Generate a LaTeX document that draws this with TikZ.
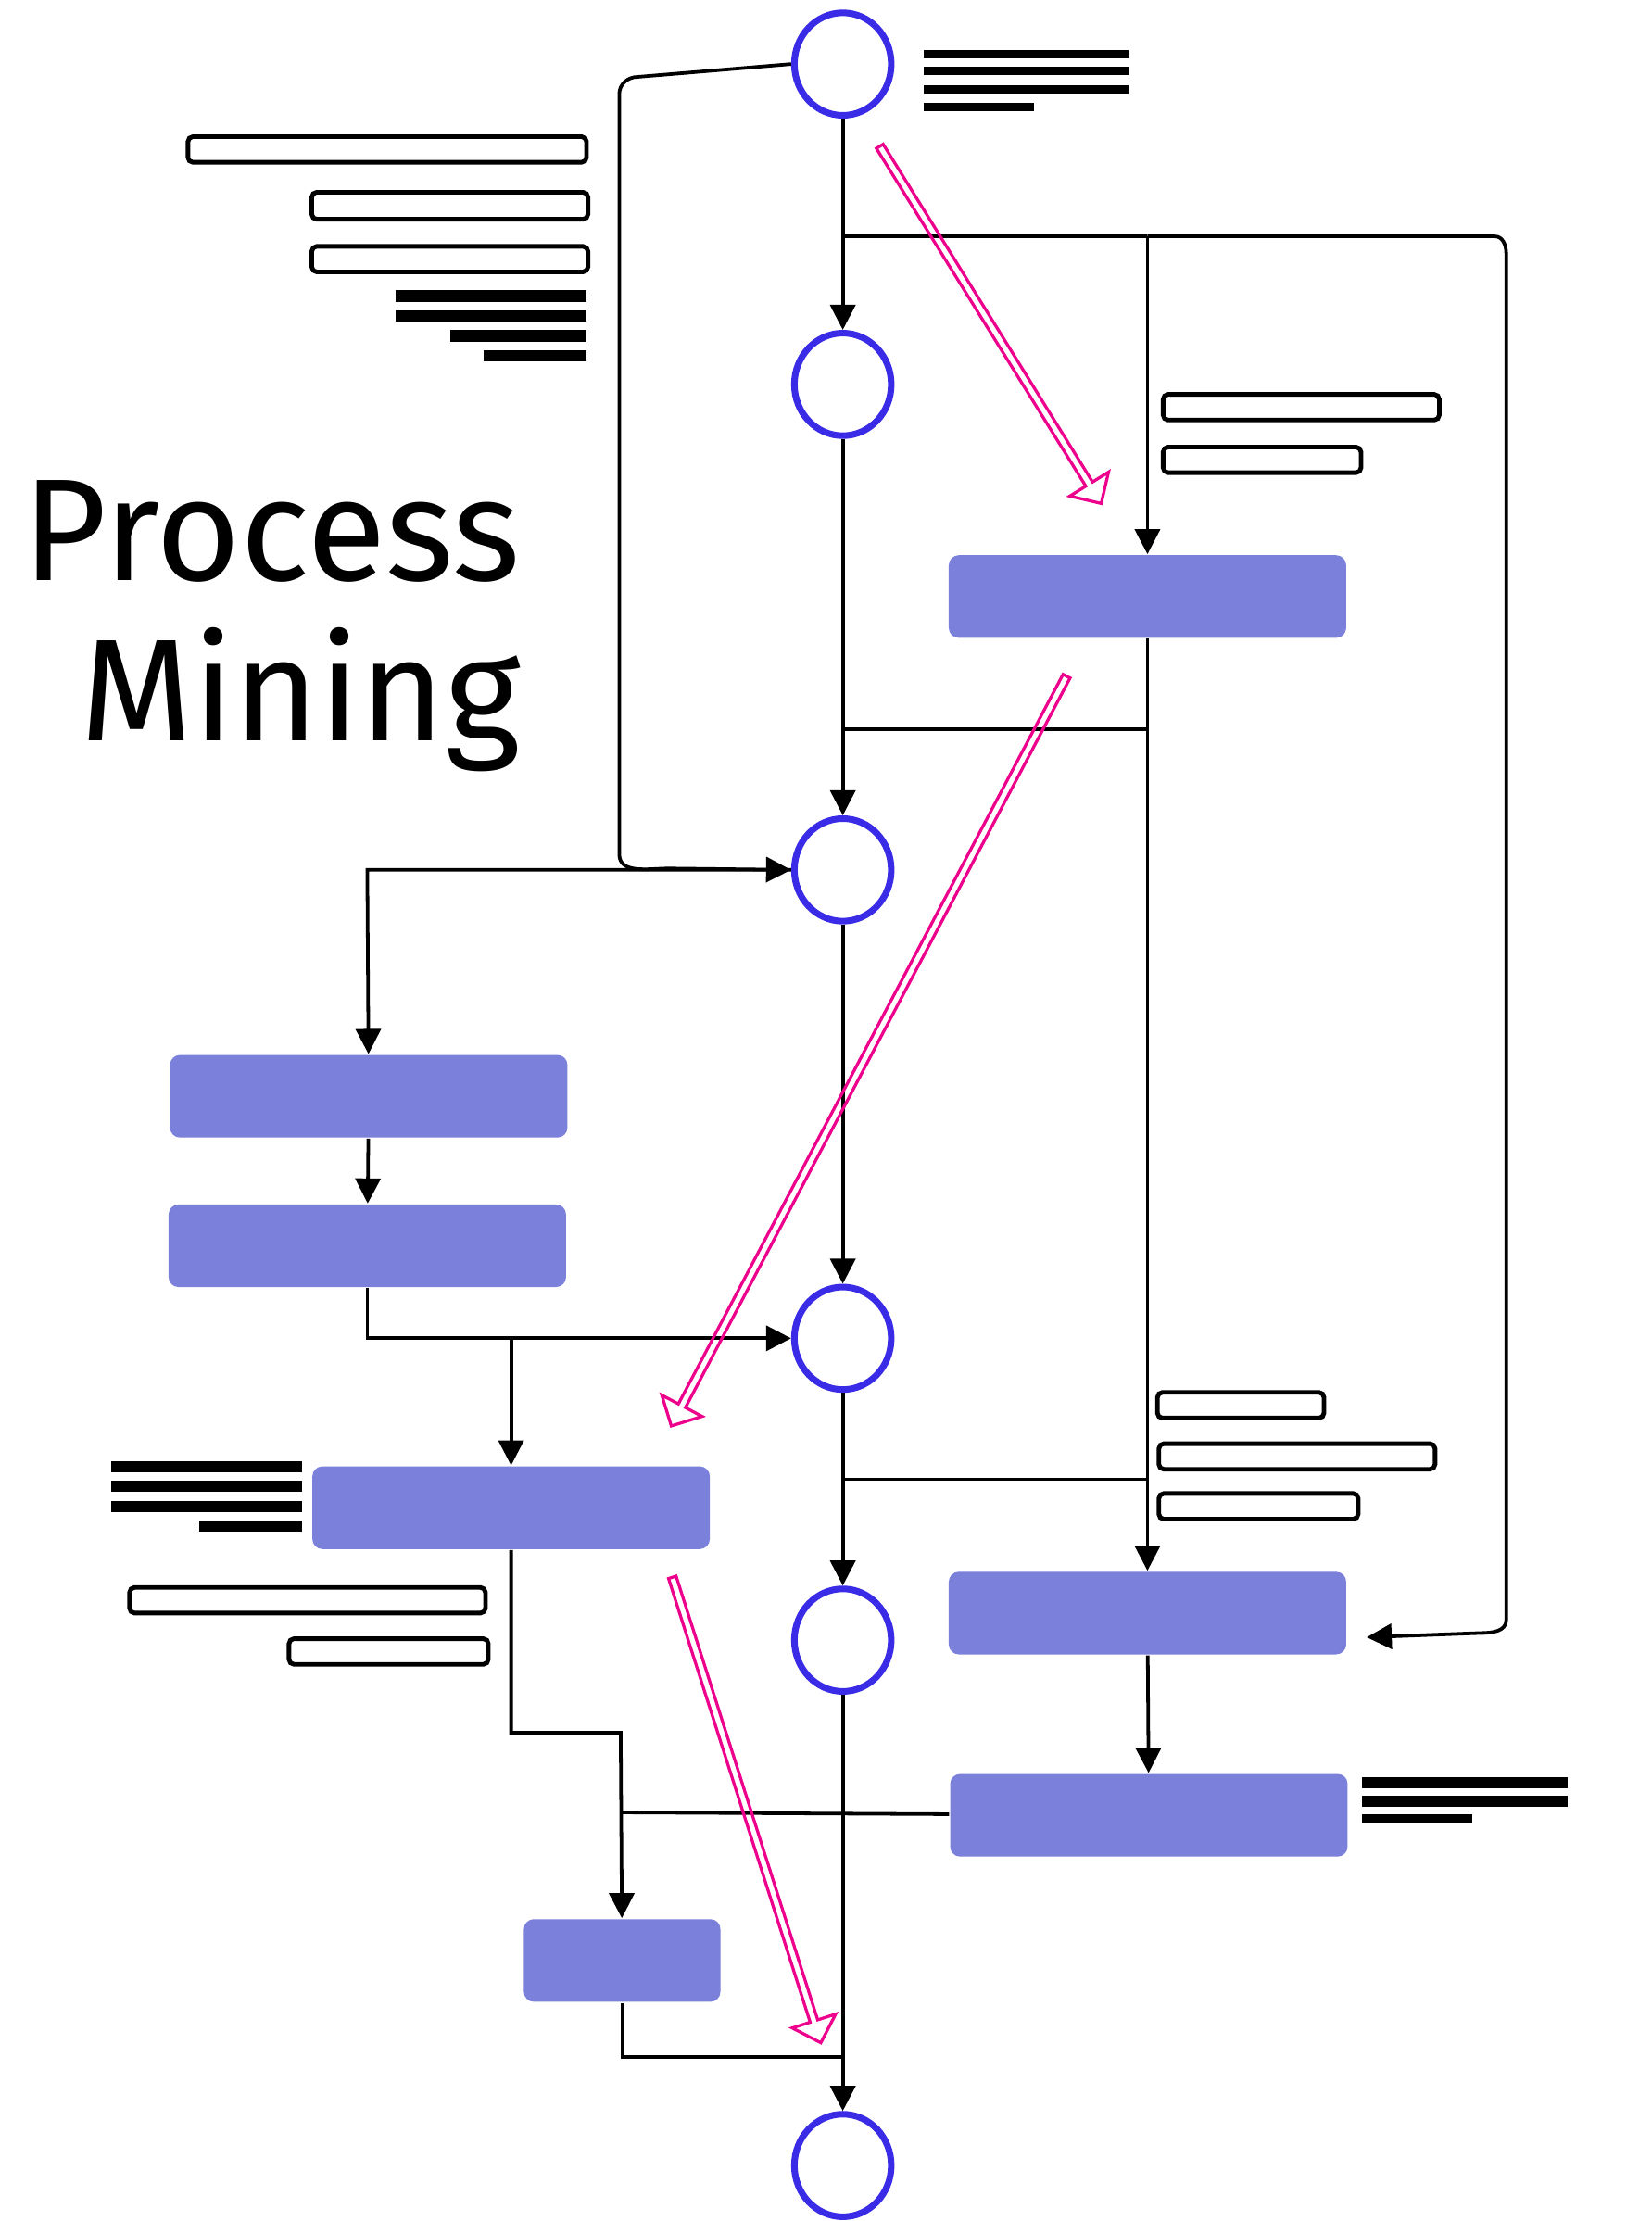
\documentclass[tikz,border=0pt]{standalone}
\usepackage{fontspec}
\setmainfont{Fira Sans}
\usetikzlibrary{arrows.meta,shapes.geometric,shapes.arrows}
\definecolor{stateblue}{HTML}{3A2BE6}
\definecolor{taskfill}{HTML}{7B80DB}
\begin{document}
\begin{tikzpicture}[x=0.01cm,y=-0.01cm,
    state/.style={ellipse,draw=stateblue,line width=1.3pt,minimum width=0.68cm,minimum height=0.72cm,inner sep=0},
    task/.style={rectangle,rounded corners=2pt,fill=taskfill,minimum height=0.58cm,inner sep=0},
    flow/.style={line width=0.7pt,-{Triangle[length=5pt,width=5pt]}},
    link/.style={line width=0.7pt},
    hint/.style={single arrow,draw=magenta,line width=0.6pt,minimum width=0.32cm,single arrow head extend=0.05cm,inner sep=0,single arrow head indent=0cm},
    slot/.style={draw,line width=0.9pt,rounded corners=1pt},
    bar/.style={fill=black}]
    \useasboundingbox (0,0) rectangle (1160,1560);
    % states
    \node[state] (c1) at (592,45) {};
    \node[state] (c2) at (592,270) {};
    \node[state] (c3) at (592,611) {};
    \node[state] (c4) at (592,940) {};
    \node[state] (c5) at (592,1152) {};
    \node[state] (c6) at (592,1521) {};
    % tasks
    \node[task,minimum width=2.79cm] (b1) at (806,419) {};
    \node[task,minimum width=2.79cm] (b2) at (259,770) {};
    \node[task,minimum width=2.79cm] (b3) at (258,875) {};
    \node[task,minimum width=2.79cm] (b4) at (359,1059) {};
    \node[task,minimum width=2.79cm] (b5) at (806,1133) {};
    \node[task,minimum width=2.79cm] (b6) at (807,1275) {};
    \node[task,minimum width=1.38cm] (b7) at (437,1377) {};
    % title
    \node[anchor=base east,font=\fontsize{29}{35}\selectfont] (t1) at (378,408) {Process};
    \node[anchor=base east,font=\fontsize{29}{35}\selectfont] (t2) at (378,520) {Mining};
    % junctions
    \coordinate (j1) at (592,166);
    \coordinate (j2) at (806,166);
    \coordinate (j3) at (592,512);
    \coordinate (j4) at (806,512);
    \coordinate (j5) at (359,940);
    \coordinate (j6) at (592,1039);
    \coordinate (j7) at (806,1039);
    \coordinate (j8) at (436,1273);
    \coordinate (j9) at (592,1445);
    % connectors
    \draw[flow] (c1) -- (c2);
    \draw[link] (j1) -- (j2);
    \draw[flow] (j2) -- (b1);
    \draw[flow] (j2) -- (1050,166) to[out=0,in=90] (1058,178) -- (1058,1138) to[out=-90,in=0] (1040,1147) -- (960,1150);
    \draw[flow] (c1.west) -- (448,54) to[out=180,in=90] (435,66) -- (435,600) to[out=-90,in=180] (470,610) -- (c3.west);
    \draw[flow] (c2) -- (c3);
    \draw[link] (j3) -- (j4);
    \draw[flow] (b1) -- (b5);
    \draw[flow] (c3.west) -- (258,611) -- (b2);
    \draw[flow] (c3) -- (c4);
    \draw[flow] (b2) -- (b3);
    \draw[flow] (b3) |- (c4.west);
    \draw[flow] (j5) -- (b4);
    \draw[flow] (c4) -- (c5);
    \draw[link] (j6) -- (j7);
    \draw[flow] (b5) -- (b6);
    \draw[flow] (c5) -- (c6);
    \draw[flow] (b4) |- (436,1217) -- (b7);
    \draw[link] (j8) -- (b6);
    \draw[link] (b7) |- (j9);
    % hints
    \node[hint,minimum height=2.95cm,rotate=-58.2] (h1) at (695,227) {};
    \node[hint,minimum height=5.95cm,rotate=-117.8] (h2) at (611,737) {};
    \node[hint,minimum height=3.43cm,rotate=-72.3] (h3) at (524,1270) {};
    % text placeholders
    \foreach \y in {38,50,63} \fill[bar] (649,\y-3) rectangle (793,\y+3);
    \fill[bar] (649,72) rectangle (726,78);
    \draw[slot] (132,96) rectangle (412,114);
    \draw[slot] (219,135) rectangle (413,154);
    \draw[slot] (219,173) rectangle (413,191);
    \foreach \y in {208,222} \fill[bar] (278,\y-4) rectangle (412,\y+4);
    \fill[bar] (316,232) rectangle (412,240);
    \fill[bar] (340,246) rectangle (412,254);
    \draw[slot] (817,277) rectangle (1011,295);
    \draw[slot] (817,314) rectangle (956,332);
    \foreach \y in {1030,1044,1058} \fill[bar] (78,\y-4) rectangle (212,\y+4);
    \fill[bar] (140,1068) rectangle (212,1076);
    \draw[slot] (91,1115) rectangle (341,1133);
    \draw[slot] (203,1151) rectangle (343,1169);
    \draw[slot] (813,978) rectangle (930,996);
    \draw[slot] (814,1014) rectangle (1008,1032);
    \draw[slot] (814,1049) rectangle (954,1067);
    \foreach \y in {1252,1265} \fill[bar] (957,\y-4) rectangle (1101,\y+4);
    \fill[bar] (957,1274) rectangle (1034,1281);
\end{tikzpicture}
\end{document}
